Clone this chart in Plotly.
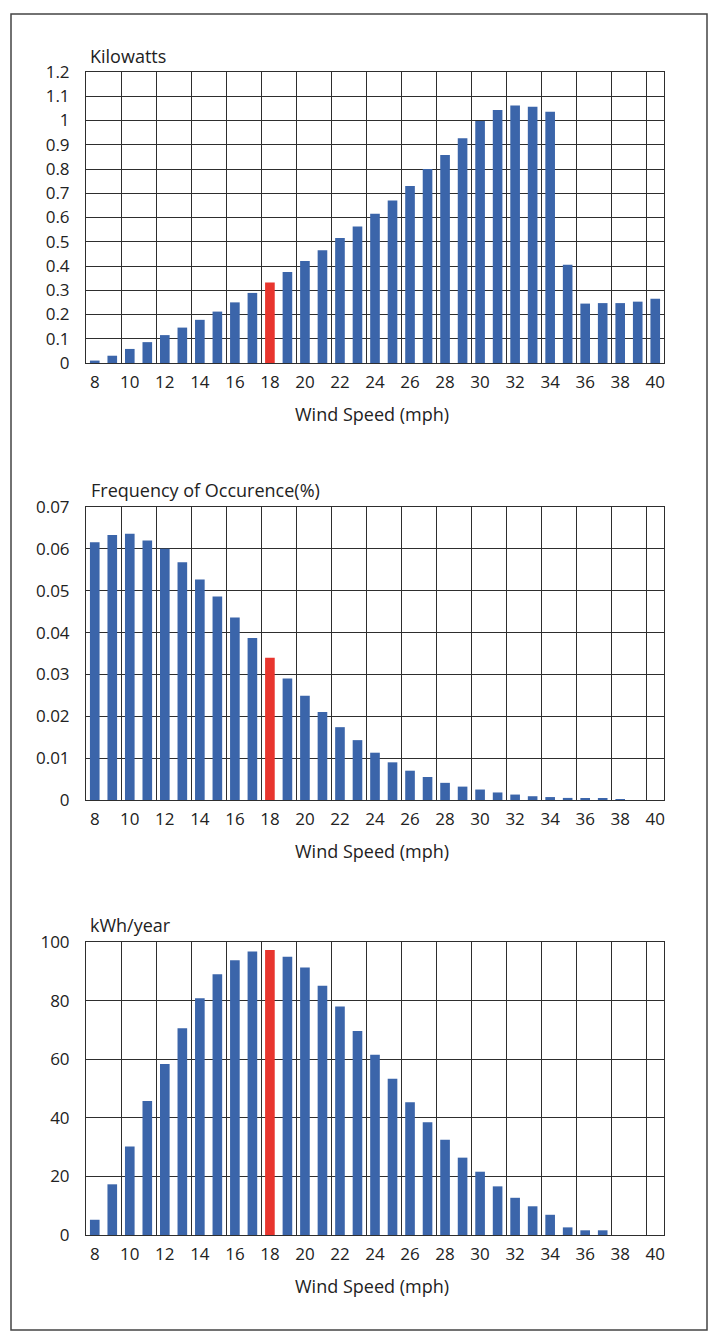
import plotly.graph_objects as go

# ---------------- data ----------------
speeds = list(range(8, 41))  # wind speed, mph
x_ticks = [8, 10, 12, 14, 16, 18, 20, 22, 24, 26, 28, 30, 32, 34, 36, 38, 40]
highlight_speed = 18

kilowatts = [0.01, 0.03, 0.058, 0.086, 0.115, 0.146, 0.178, 0.212, 0.25, 0.289,
             0.332, 0.375, 0.421, 0.465, 0.515, 0.563, 0.615, 0.67, 0.73, 0.80,
             0.858, 0.927, 0.998, 1.043, 1.062, 1.057, 1.036, 0.405, 0.245, 0.247,
             0.247, 0.253, 0.265]

frequency = [0.0616, 0.0633, 0.0636, 0.062, 0.06, 0.0568, 0.0527, 0.0486, 0.0436,
             0.0387, 0.034, 0.029, 0.0249, 0.021, 0.0174, 0.0143, 0.0113, 0.009,
             0.007, 0.0055, 0.0041, 0.0032, 0.0025, 0.0018, 0.0013, 0.0009, 0.0007,
             0.0005, 0.0004, 0.0003, 0.0002, 0.0, 0.0]

kwh_year = [5.2, 17.3, 30.2, 45.7, 58.4, 70.6, 80.8, 89.0, 93.8, 96.8, 97.3, 95.0,
            91.3, 85.1, 78.0, 69.6, 61.5, 53.3, 45.3, 38.5, 32.5, 26.4, 21.6, 16.6,
            12.7, 9.8, 6.9, 2.6, 1.6, 1.6, 0.0, 0.0, 0.0]

titles = ["Kilowatts", "Frequency of Occurence(%)", "kWh/year"]
x_title = "Wind Speed (mph)"
y_ranges = [[0, 1.2], [0, 0.07], [0, 100]]
y_dticks = [0.1, 0.01, 20]

# ---------------- layout helpers ----------------
PAGE_W, PAGE_H = 716, 1342
BODY = 8                       # default body margin of the html page
W, H = PAGE_W - 2 * BODY, PAGE_H - 2 * BODY
BLUE = "#3b65aa"
RED = "#e8352e"
GRID = "#2e2e2e"
TXT = "#222222"
FONT = "Open Sans"


def px(xp):
    return (xp - BODY) / W


def py(yp):
    return 1 - (yp - BODY) / H


colors = [RED if s == highlight_speed else BLUE for s in speeds]
series = [kilowatts, frequency, kwh_year]

# plot-area page-pixel boxes (top, bottom)
boxes = [(72, 363), (507, 800), (942, 1235)]
x_left, x_right = 86, 664
title_y = [56, 490, 925]
title_x = [88, 89, 88]

fig = go.Figure()
minor_vals = [v + 0.5 for v in range(9, 40, 2)]

for i, vals in enumerate(series):
    n = "" if i == 0 else str(i + 1)
    fig.add_trace(go.Bar(
        x=speeds, y=vals, marker=dict(color=colors, line=dict(width=0)),
        xaxis="x" + n, yaxis="y" + n, showlegend=False, width=0.55,
    ))
    top, bot = boxes[i]
    fig.update_layout(**{
        "xaxis" + n: dict(
            domain=[px(x_left), px(x_right)], anchor="y" + n,
            range=[7.5, 40.5], tickmode="array", tickvals=x_ticks,
            ticktext=[str(t) for t in x_ticks], showgrid=False,
            minor=dict(tickmode="array", tickvals=minor_vals, showgrid=True,
                       gridcolor=GRID, gridwidth=1, ticks=""),
            showline=True, mirror=True, linecolor=GRID, linewidth=1,
            ticks="", ticklabelstandoff=4, zeroline=False, automargin=False,
            tickfont=dict(family=FONT, size=17, color=TXT),
            fixedrange=True,
        ),
        "yaxis" + n: dict(
            domain=[py(bot), py(top)], anchor="x" + n,
            range=y_ranges[i], dtick=y_dticks[i], tick0=0,
            showgrid=True, gridcolor=GRID, gridwidth=1,
            showline=True, mirror=True, linecolor=GRID, linewidth=1,
            ticks="", ticklabelstandoff=12, zeroline=False, automargin=False,
            tickfont=dict(family=FONT, size=17, color=TXT),
            fixedrange=True,
        ),
    })
    fig.add_annotation(text=titles[i], xref="paper", yref="paper",
                       x=px(title_x[i]), y=py(title_y[i]),
                       xanchor="left", yanchor="middle", showarrow=False,
                       font=dict(family=FONT, size=18, color=TXT))
    fig.add_annotation(text=x_title, xref="paper", yref="paper",
                       x=px(372), y=py(bot + 51),
                       xanchor="center", yanchor="middle", showarrow=False,
                       font=dict(family=FONT, size=18, color=TXT))

# outer frame
fig.add_shape(type="rect", xref="paper", yref="paper",
              x0=px(11), x1=px(707), y0=py(1330), y1=py(14),
              line=dict(color="#444", width=1.5), fillcolor="rgba(0,0,0,0)")

fig.update_layout(
    width=W, height=H,
    margin=dict(l=0, r=0, t=0, b=0, pad=0, autoexpand=False),
    paper_bgcolor="white", plot_bgcolor="white",
    bargap=0.45, font=dict(family=FONT, color=TXT),
)

fig.write_html("out.html", config={"displayModeBar": False})
